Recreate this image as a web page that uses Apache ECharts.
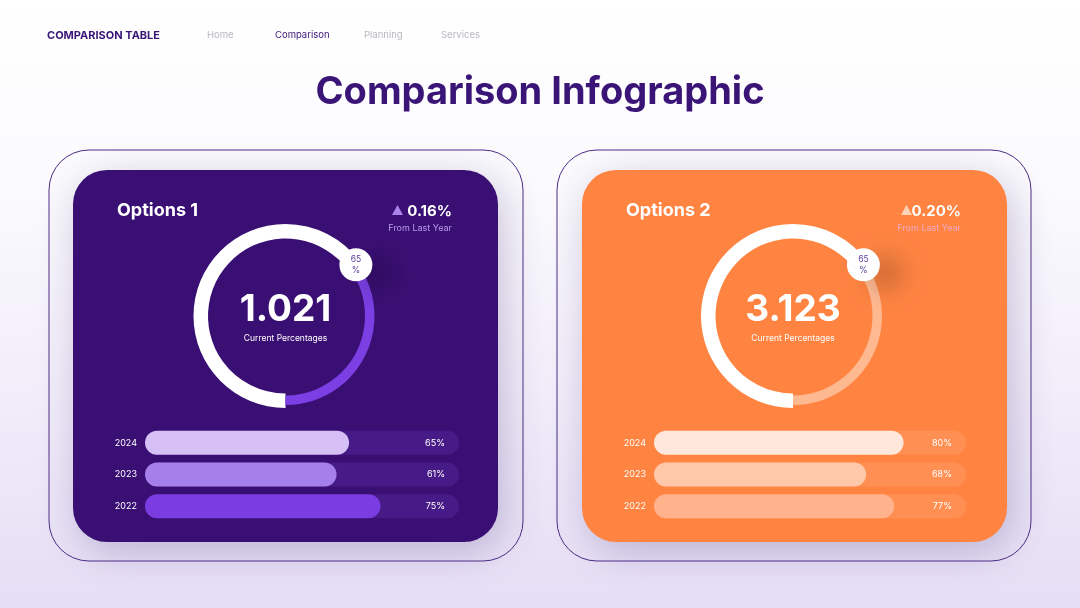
<!DOCTYPE html>
<html>
<head>
<meta charset="utf-8">
<script src="https://cdn.jsdelivr.net/npm/echarts@6/dist/echarts.min.js"></script>
<style>
  html,body{margin:0;padding:0;background:#fff;}
  #main{width:1080px;height:608px;}
</style>
</head>
<body>
<div id="main"></div>
<script>
// ---------- data ----------
const years = ['2024', '2023', '2022'];
const option1Values = [65, 61, 75];
const option2Values = [80, 68, 77];
const option1Ring = 65;
const option2Ring = 65;
const option1Total = '1.021';
const option2Total = '3.123';
const option1Change = '0.16%';
const option2Change = '0.20%';
const navItems = ['Home', 'Comparison', 'Planning', 'Services'];

// ---------- styles ----------
const FONT = 'Inter, "Noto Sans", sans-serif';
const DARK = '#3a1577';
const cards = [
  {x: 73, bg: '#3a0f74', track: '#471b87', barLeft: 145, barWidth: 314,
   bars: ['#d6bff5', '#a57fea', '#7b3ce2'], tri: '#a983ea', sub: '#b89cec',
   title: 'Options 1', total: option1Total, change: option1Change,
   values: option1Values, ring: option1Ring, ringColor: '#7b3fe4', cx: 285.5},
  {x: 582, bg: '#ff8442', track: '#ff8f52', barLeft: 654, barWidth: 312,
   bars: ['#ffe7db', '#ffc8a8', '#ffb28b'], tri: '#ffd2b5', sub: '#eea9c6',
   title: 'Options 2', total: option2Total, change: option2Change,
   values: option2Values, ring: option2Ring, ringColor: '#ffb991', cx: 793}
];
const CY = 316;

const chart = echarts.init(document.getElementById('main'), null, {renderer: 'canvas'});

const graphics = [
  {type: 'rect', z: 0, shape: {x: 0, y: 0, width: 1080, height: 608},
   style: {fill: new echarts.graphic.LinearGradient(0, 0, 0, 1, [
     {offset: 0, color: '#ffffff'}, {offset: 0.35, color: '#faf9fd'}, {offset: 1, color: '#e6def5'}])}},
  {type: 'text', z: 10, x: 47, y: 36, style: {text: 'COMPARISON TABLE', fill: DARK, font: 'bold 11px ' + FONT, textVerticalAlign: 'middle'}},
  {type: 'text', z: 10, x: 540, y: 93, style: {text: 'Comparison Infographic', fill: DARK, font: 'bold 38px ' + FONT, textAlign: 'center', textVerticalAlign: 'middle'}}
];
const navX = [207, 275, 364, 441];
navItems.forEach((t, i) => {
  graphics.push({type: 'text', z: 10, x: navX[i], y: 35, style: {text: t, fill: i === 1 ? DARK : '#b9b7c0', font: '9.5px ' + FONT, textVerticalAlign: 'middle'}});
});

cards.forEach((c, k) => {
  const ox = k === 0 ? 49 : 557;
  graphics.push({type: 'rect', z: 1, shape: {x: ox, y: 150, width: 474, height: 411, r: 40},
    style: {fill: 'rgba(0,0,0,0)', stroke: '#4a2c86', lineWidth: 1}});
  graphics.push({type: 'rect', z: 1, shape: {x: c.x, y: 170, width: 425, height: 372, r: 34},
    style: {fill: c.bg, shadowBlur: 40, shadowOffsetX: 6, shadowOffsetY: 10, shadowColor: 'rgba(70,50,120,0.28)'}});
  graphics.push({type: 'text', z: 10, x: c.x + 44, y: 211, style: {text: c.title, fill: '#ffffff', font: 'bold 18px ' + FONT, textVerticalAlign: 'middle'}});
  graphics.push({type: 'text', z: 10, x: c.x + 379, y: 211, style: {text: c.change, fill: '#ffffff', font: 'bold 15px ' + FONT, textAlign: 'right', textVerticalAlign: 'middle'}});
  graphics.push({type: 'polygon', z: 10, shape: {points: [[c.x + 319, 215], [c.x + 330, 215], [c.x + 324.5, 205]]}, style: {fill: c.tri}});
  graphics.push({type: 'text', z: 10, x: c.x + 379, y: 228, style: {text: 'From Last Year', fill: c.sub, font: '9px ' + FONT, textAlign: 'right', textVerticalAlign: 'middle'}});
  graphics.push({type: 'text', z: 10, x: c.cx, y: 310, style: {text: c.total, fill: '#ffffff', font: 'bold 37px ' + FONT, textAlign: 'center', textVerticalAlign: 'middle'}});
  graphics.push({type: 'text', z: 10, x: c.cx, y: 338, style: {text: 'Current Percentages', fill: '#ffffff', font: '8.5px ' + FONT, textAlign: 'center', textVerticalAlign: 'middle'}});
});

const series = [];
const grids = [], xAxes = [], yAxes = [], polars = [], angleAxes = [], radiusAxes = [];

cards.forEach((c, k) => {
  // donut: completed part (white, thicker)
  series.push({type: 'pie', z: 3, silent: true, center: [c.cx, CY], radius: [77.5, 92], startAngle: 270, clockwise: true,
    label: {show: false}, labelLine: {show: false}, emphasis: {disabled: true},
    data: [{value: c.ring, itemStyle: {color: '#ffffff'}}, {value: 100 - c.ring, itemStyle: {color: 'rgba(0,0,0,0)'}}]});
  // donut: remaining part (thinner, coloured)
  series.push({type: 'pie', z: 3, silent: true, center: [c.cx, CY], radius: [79.5, 89], startAngle: 270, clockwise: true,
    label: {show: false}, labelLine: {show: false}, emphasis: {disabled: true},
    data: [{value: c.ring, itemStyle: {color: 'rgba(0,0,0,0)'}}, {value: 100 - c.ring, itemStyle: {color: c.ringColor}}]});
  // bubble on the ring
  polars.push({center: [c.cx, CY], radius: [0, 87]});
  angleAxes.push({polarIndex: k, type: 'value', min: 0, max: 100, startAngle: 270, clockwise: true, show: false});
  radiusAxes.push({polarIndex: k, type: 'value', min: 0, max: 1, show: false});
  series.push({type: 'scatter', z: 5, coordinateSystem: 'polar', polarIndex: k, symbolSize: 33, silent: true,
    itemStyle: {color: '#ffffff', opacity: 1, shadowBlur: 25, shadowOffsetX: 22, shadowOffsetY: 8, shadowColor: 'rgba(0,0,0,0.22)'},
    label: {show: true, position: 'inside', formatter: String(c.ring) + '\n%', color: '#5b3f9c', fontSize: 8.5, lineHeight: 11, fontFamily: FONT},
    data: [[1, c.ring]]});

  // bars
  grids.push({left: c.barLeft, width: c.barWidth, top: 427, height: 95, containLabel: false});
  xAxes.push({gridIndex: k, type: 'value', min: 0, max: 100, show: false});
  yAxes.push({gridIndex: k, type: 'category', data: years, inverse: true, z: 20,
    axisLine: {show: false}, axisTick: {show: false},
    axisLabel: {color: '#ffffff', fontSize: 9, margin: 8, fontFamily: FONT}});
  yAxes.push({gridIndex: k, type: 'category', data: c.values.map(v => v + '%'), inverse: true, position: 'right', z: 20,
    axisLine: {show: false}, axisTick: {show: false},
    axisLabel: {inside: true, color: '#ffffff', fontSize: 9, margin: 14, fontFamily: FONT}});
  series.push({type: 'bar', z: 4, xAxisIndex: k, yAxisIndex: k * 2, barWidth: 24, silent: true,
    showBackground: true, backgroundStyle: {color: c.track, borderRadius: 12},
    data: c.values.map((v, i) => ({value: v, itemStyle: {color: c.bars[i], borderRadius: 12}}))});
});

chart.setOption({
  animation: false,
  graphic: graphics,
  grid: grids, xAxis: xAxes, yAxis: yAxes,
  polar: polars, angleAxis: angleAxes, radiusAxis: radiusAxes,
  series: series
});
</script>
</body>
</html>
